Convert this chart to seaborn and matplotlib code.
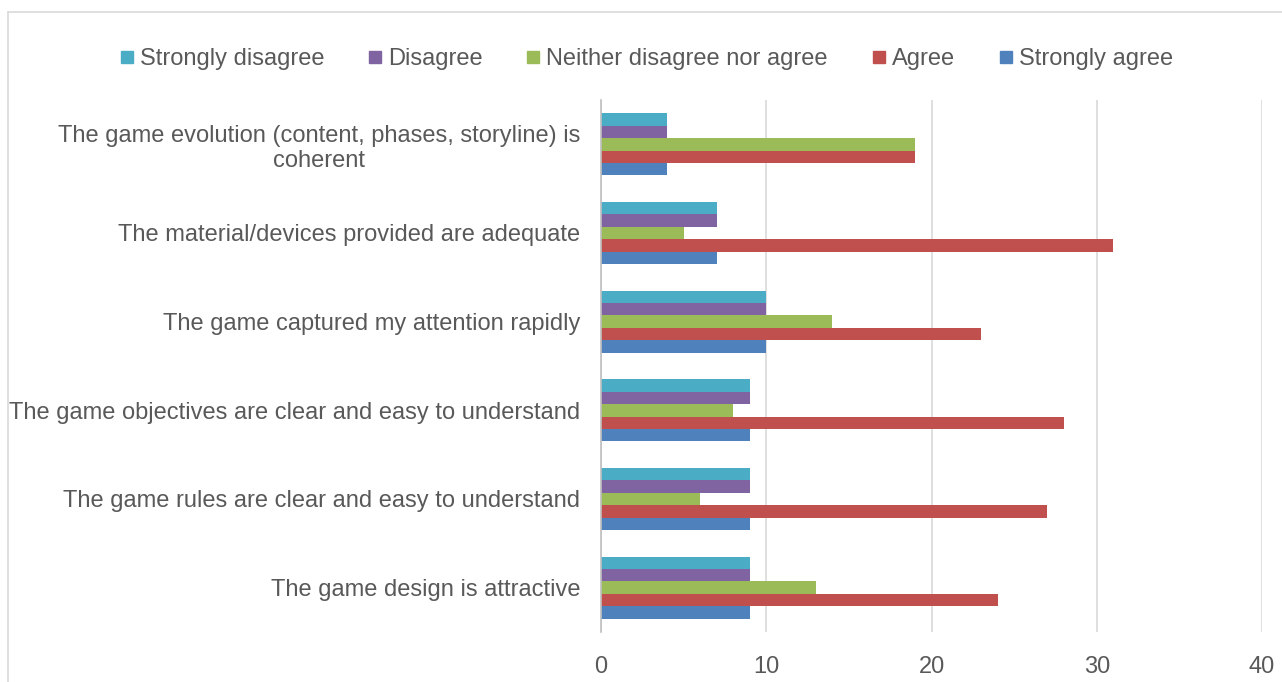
import matplotlib
matplotlib.use("Agg")
import matplotlib.pyplot as plt
import seaborn as sns
import pandas as pd
from matplotlib.lines import Line2D

categories = [
    "The game evolution (content, phases, storyline) is\ncoherent",
    "The material/devices provided are adequate",
    "The game captured my attention rapidly",
    "The game objectives are clear and easy to understand",
    "The game rules are clear and easy to understand",
    "The game design is attractive",
]
series = ["Strongly disagree", "Disagree", "Neither disagree nor agree", "Agree", "Strongly agree"]
strongly_disagree = [4, 7, 10, 9, 9, 9]
disagree = [4, 7, 10, 9, 9, 9]
neither = [19, 5, 14, 8, 6, 13]
agree = [19, 31, 23, 28, 27, 24]
strongly_agree = [4, 7, 10, 9, 9, 9]
colors = ["#4BACC6", "#8064A2", "#9BBB59", "#C0504D", "#4F81BD"]
x_ticks = [0, 10, 20, 30, 40]

values = [strongly_disagree, disagree, neither, agree, strongly_agree]
rows = []
for s, vals in zip(series, values):
    for c, v in zip(categories, vals):
        rows.append({"category": c, "series": s, "value": v})
df = pd.DataFrame(rows)

sns.set_style("white")
plt.rcParams["font.family"] = ["Liberation Sans", "DejaVu Sans"]

fig = plt.figure(figsize=(12.82, 6.82), dpi=100)
ax = fig.add_axes([601/1282, 1-632/682, (1262-601)/1282, (632-100)/682])

sns.barplot(data=df, y="category", x="value", hue="series", order=categories,
            hue_order=series, palette=colors, orient="h", width=0.7, gap=0,
            saturation=1, ax=ax, legend=False, linewidth=0)

ax.set_xlim(0, 40)
ax.set_xticks(x_ticks)
ax.set_xlabel("")
ax.set_ylabel("")
ax.grid(axis="x", color="#D9D9D9", linewidth=1.2)
ax.grid(axis="y", visible=False)
ax.set_axisbelow(True)
for side in ["top", "right", "bottom"]:
    ax.spines[side].set_visible(False)
ax.spines["left"].set_color("#BFBFBF")
ax.spines["left"].set_linewidth(1.2)
ax.tick_params(axis="both", length=0, labelsize=17, labelcolor="#595959")
ax.tick_params(axis="y", pad=15)
ax.tick_params(axis="x", pad=17)
for lbl in ax.get_yticklabels():
    lbl.set_multialignment("center")

handles = [Line2D([0], [0], marker="s", linestyle="", markersize=9,
                  markerfacecolor=c, markeredgecolor=c) for c in colors]
fig.legend(handles, series, loc="center", bbox_to_anchor=(645/1282, 1-59/682),
           ncol=5, frameon=False, fontsize=17, labelcolor="#595959",
           handletextpad=0.15, columnspacing=1.75, handlelength=0.8)

# outer frame
fig.add_artist(Line2D([8/1282, 8/1282], [0, 1-12/682], transform=fig.transFigure,
                      color="#D9D9D9", linewidth=1.2))
fig.add_artist(Line2D([8/1282, 1], [1-12/682, 1-12/682], transform=fig.transFigure,
                      color="#D9D9D9", linewidth=1.2))

fig.savefig("out.png", dpi=100)
